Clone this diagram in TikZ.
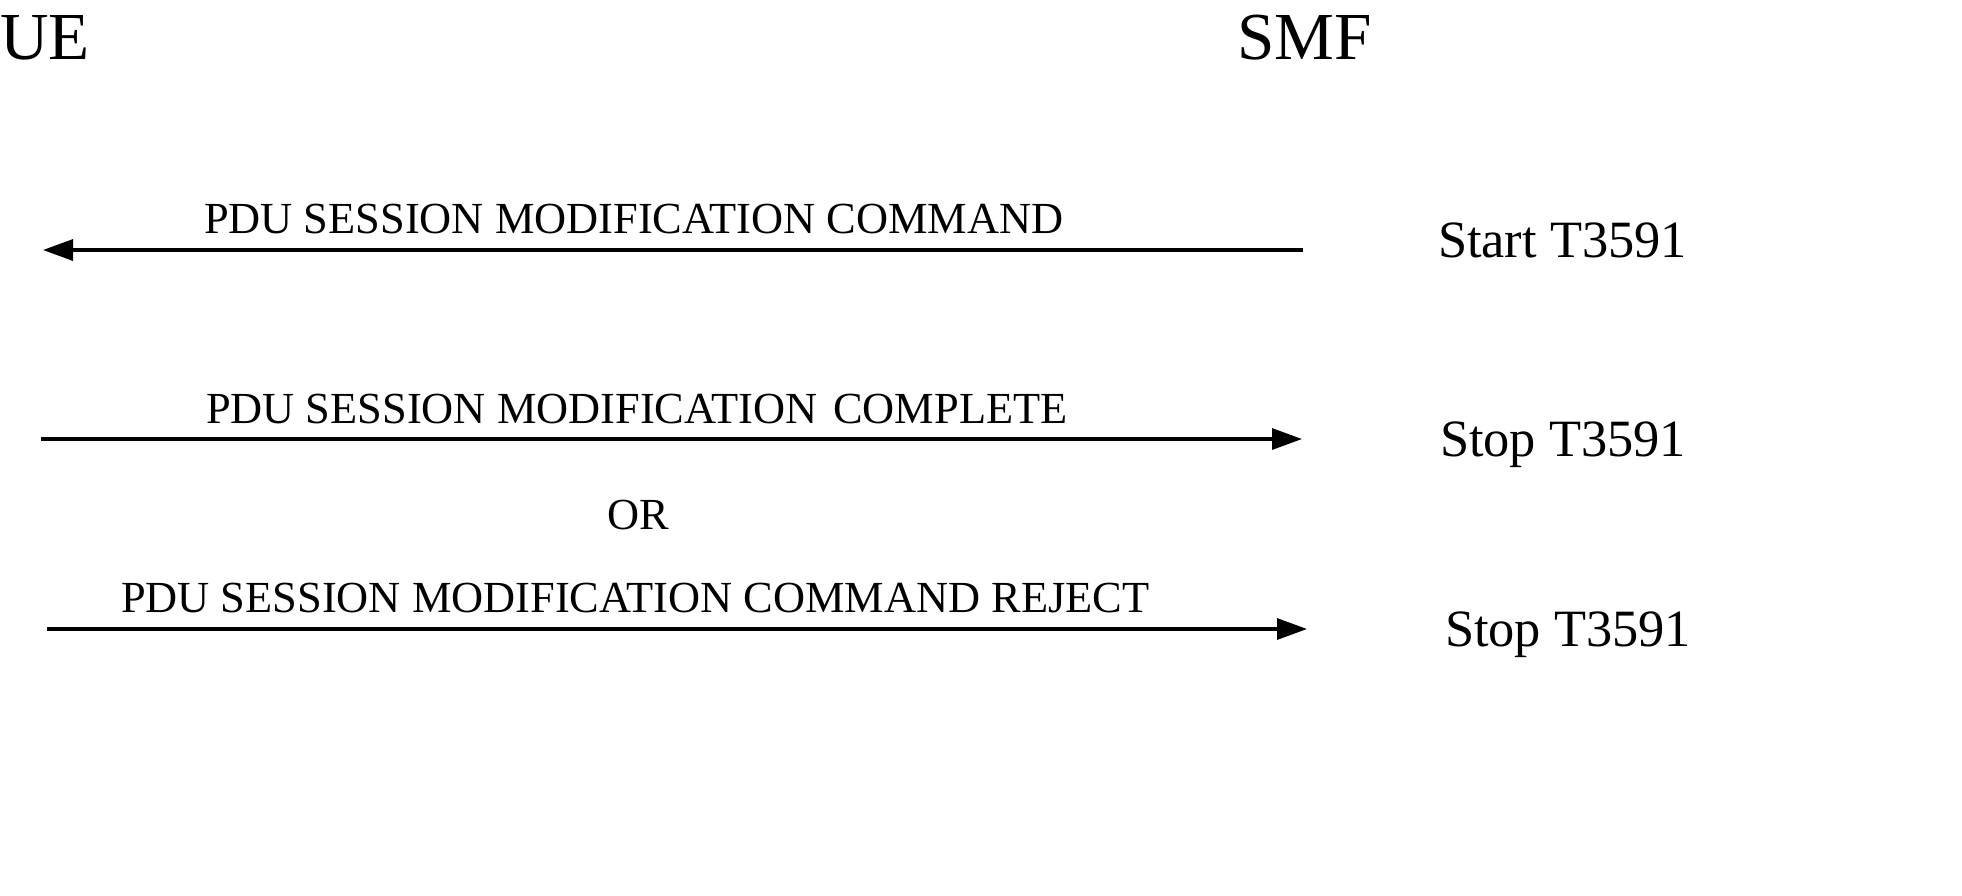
\documentclass[tikz,border=0pt]{standalone}
\usepackage{fontspec}
\setmainfont{Liberation Serif}
\usetikzlibrary{positioning,arrows.meta}

\begin{document}
\begin{tikzpicture}[x=0.5pt,y=-0.5pt,
                       entity node/.style={inner sep=0pt,outer sep=0pt,anchor=base west,
                                           font=\fontsize{33.6}{36}\selectfont},
                       msg label/.style={inner sep=0pt,outer sep=0pt,anchor=base west,
                                         font=\fontsize{22.2}{26}\selectfont},
                       timer node/.style={inner sep=0pt,outer sep=0pt,anchor=base west,
                                          font=\fontsize{26.2}{30}\selectfont},
                       msg line/.style={line width=1.6pt,-{Triangle[length=15pt,width=10.5pt]}}
                      ]
   \useasboundingbox (0,0) rectangle (1962,895);
   \node[entity node] (ue) at (0,59) {UE};
   \node[entity node] (smf) at (1237,59) {SMF};
   % message end points
   \coordinate (smfa) at (1303,250);
   \coordinate (uea) at (43,250);
   \coordinate (ueb) at (41,439);
   \coordinate (smfb) at (1302,439);
   \coordinate (uec) at (47,629);
   \coordinate (smfc) at (1307,629);
   \node[msg label] (cmd) at (204,233) {PDU SESSION MODIFICATION COMMAND};
   \node[msg label] (cmpl) at (206,423) {PDU SESSION MODIFICATION\hspace{0.1em} COMPLETE};
   \node[msg label] (or) at (607,529) {OR};
   \node[msg label] (rej) at (121,612) {PDU SESSION MODIFICATION COMMAND REJECT};
   \node[timer node] (start) at (1438,257) {Start T3591};
   \node[timer node] (stopa) at (1440,456) {Stop T3591};
   \node[timer node] (stopb) at (1445,646) {Stop T3591};
   \path%
    (smfa) edge [msg line] (uea)
    (ueb) edge [msg line] (smfb)
    (uec) edge [msg line] (smfc);
  \end{tikzpicture}
\end{document}
